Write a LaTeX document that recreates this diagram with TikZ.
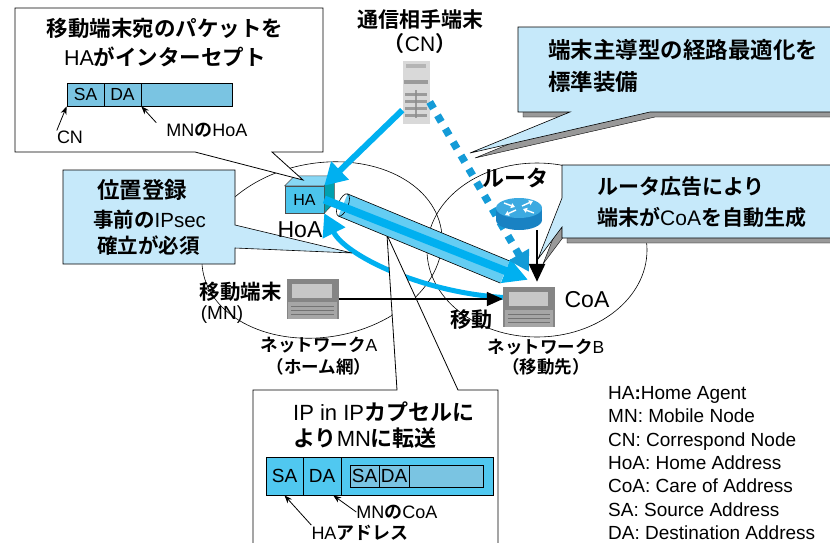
\documentclass[tikz,border=0pt]{standalone}
\usepackage{fontspec}
\setmainfont{Liberation Sans}
\newfontfamily\jpfont{Noto Sans CJK JP Bold}
\usetikzlibrary{arrows.meta, calc}

\definecolor{callblue}{RGB}{198,233,250}
\definecolor{pktblue}{RGB}{122,196,226}
\definecolor{pktcyan}{RGB}{80,200,240}
\definecolor{flowcyan}{RGB}{0,176,240}
\definecolor{dotcyan}{RGB}{20,155,215}
\definecolor{tubeblue}{RGB}{100,205,243}
\definecolor{hafront}{RGB}{75,196,236}
\definecolor{hatop}{RGB}{135,215,245}
\definecolor{haside}{RGB}{0,160,175}
\definecolor{rtbody}{RGB}{25,130,195}
\definecolor{rttop}{RGB}{60,170,225}

\newcommand{\jb}[1]{{\jpfont #1}}
\newcommand{\pxsize}[2]{\fontsize{#1}{#2}\selectfont}

\begin{document}
\begin{tikzpicture}[x=1pt, y=-1pt,
    lbl/.style={inner sep=0pt, font=\pxsize{18}{22}},
    pkt/.style={draw, line width=0.8pt, minimum height=23pt, inner sep=0pt, font=\pxsize{17.5}{18}},
    callb/.style={draw, line width=0.6pt, fill=callblue},
    callw/.style={draw, line width=0.8pt, fill=white},
    callshade/.style={fill=black!40},
    tip/.style={-{Stealth[length=8pt,width=6pt]}, line width=0.8pt},
    laptop/.style={fill=black!48, minimum width=52pt, minimum height=40pt, inner sep=0pt}]
    \useasboundingbox (0,0) rectangle (830,542);

    % networks
    \draw[line width=0.6pt, rotate around={10:(322,250)}] (322,250) ellipse [x radius=121, y radius=87];
    \draw[line width=0.6pt] (537,250) ellipse [x radius=110, y radius=87];

    % hosts
    \node[laptop] (mn) at (312.5,299) {};
    \node[laptop] (coa) at (529,307) {};
    \node[fill=black!15, minimum width=27pt, minimum height=63pt, inner sep=0pt] (cn) at (416,92) {};
    \node[minimum width=46pt, minimum height=32pt, inner sep=0pt] (rt) at (519,214) {};
    \node[draw=black!70, line width=0.5pt, fill=hafront, minimum width=39pt, minimum height=27pt,
        inner sep=0pt, font=\pxsize{16}{16}] (ha) at (304.5,199.5) {HA};
    \filldraw[fill=hatop, draw=black!70, line width=0.5pt] (ha.north west) -- ++(10,-10) -- ++(39,0) -- (ha.north east) -- cycle;
    \filldraw[fill=haside, draw=black!70, line width=0.5pt] (ha.north east) -- ++(10,-10) -- ++(0,27) -- (ha.south east) -- cycle;

    \foreach \l in {mn,coa} {
        \fill[black!22] ($(\l.north west)+(6,5)$) rectangle ($(\l.north east)+(-7,19)$);
        \fill[black!35] ($(\l.north west)+(2,23)$) rectangle ($(\l.south east)+(-2,0)$);
        \foreach \dy in {27,31,35} \draw[black!55, line width=0.6pt] ($(\l.north west)+(5,\dy)$) -- ($(\l.north east)+(-5,\dy)$);
    }

    \fill[black!35, opacity=.7] ($(cn.north west)+(4,4)$) rectangle ($(cn.north east)+(-4,8)$);
    \fill[black!45, opacity=.8] ($(cn.north west)+(2,20)$) rectangle ($(cn.north east)+(-2,24)$);
    \foreach \dy in {33,40,47,54}
        \fill[black!45, opacity=.8] ($(cn.north west)+(3,\dy)$) rectangle ($(cn.north east)+(-3,\dy+3)$);
    \fill[black!45, opacity=.8] ($(cn.north)+(-1,30)$) rectangle ($(cn.north)+(1,58)$);

    % route back to the home agent
    \draw[flowcyan, line width=5pt, -{Triangle[length=22pt,width=24pt]}]
        (coa.160) .. controls (420,292) and (345,255) .. (ha.south east);

    % callouts
    \filldraw[callw] (15,8) -- (323,8) -- (323,152) -- (272,152) -- (303,180) -- (195,152) -- (15,152) -- cycle;
    \foreach \s/\st in {5/callshade, 0/callb}
        \filldraw[\st, shift={(\s,\s)}] (518,27) -- (840,27) -- (840,112) -- (650,112) -- (470,153) -- (570,112) -- (518,112) -- cycle;
    \foreach \s/\st in {5/callshade, 0/callb}
        \filldraw[\st, shift={(\s,\s)}] (562,165) -- (840,165) -- (840,238) -- (562,238) -- (562,227) -- (538,259) -- (562,198) -- cycle;
    \filldraw[callb] (63,170) -- (235,170) -- (235,225) -- (352,253) -- (235,248) -- (235,264) -- (63,264) -- cycle;
    \filldraw[callw] (253,390) -- (397,390) -- (387,235) -- (458,390) -- (498,390) -- (498,560) -- (253,560) -- cycle;

    % tunnel
    \fill[tubeblue] (347.6,193.9) -- (509.6,260.9) -- (500.4,283.1) -- (338.4,216.1) -- cycle;
    \draw[line width=0.6pt] (347.6,193.9) -- (509.6,260.9) (338.4,216.1) -- (500.4,283.1);
    \draw[line width=0.6pt, rotate around={-22.5:(343,205)}] (343,205) ellipse [x radius=5, y radius=12];
    \draw[flowcyan, line width=8pt, -{Triangle[length=24pt,width=24pt]}] (ha.east) -- ($(coa.north)+(-1,-7)$);

    % flows
    \draw[flowcyan, line width=6pt, -{Triangle[length=22pt,width=24pt]}] (cn.233) -- (ha.north east);
    \draw[dotcyan, line width=7.5pt, dash pattern=on 7.5pt off 8pt, -{Triangle[length=20pt,width=22pt]}]
        (cn.324) -- ($(coa.north)+(0,-15)$);
    \draw[line width=1.6pt, -{Triangle[length=16pt,width=14pt]}] (mn.east) -- (mn.east -| coa.west);
    \draw[line width=2.8pt, -{Triangle[length=18pt,width=16pt]}] ($(rt.south)+(18,0)$) -- ($(coa.north)+(8,-5)$);

    % router
    \fill[rtbody] ($(rt)+(-23,-6)$) rectangle ($(rt)+(23,6)$);
    \fill[rtbody] ($(rt)+(0,6)$) ellipse [x radius=23, y radius=10];
    \fill[rttop] ($(rt)+(0,-6)$) ellipse [x radius=23, y radius=10];
    \draw[white, line width=1.4pt, -{Triangle[length=4pt,width=5pt]}] ($(rt)+(-15,-11)$) -- ($(rt)+(-4,-7)$);
    \draw[white, line width=1.4pt, -{Triangle[length=4pt,width=5pt]}] ($(rt)+(15,-1)$) -- ($(rt)+(4,-5)$);
    \draw[white, line width=1.4pt, -{Triangle[length=4pt,width=5pt]}] ($(rt)+(3,-8)$) -- ($(rt)+(14,-13)$);
    \draw[white, line width=1.4pt, -{Triangle[length=4pt,width=5pt]}] ($(rt)+(-3,-4)$) -- ($(rt)+(-14,1)$);

    % packets
    \node[pkt, fill=pktblue, minimum width=37pt] (sa1) at (85.5,94.5) {SA};
    \node[pkt, fill=pktblue, minimum width=37pt] (da1) at (122.5,94.5) {DA};
    \node[pkt, fill=pktblue, minimum width=91pt] (pl1) at (186.5,94.5) {};
    \node[lbl] (cn1) at (70,137) {CN};
    \node[lbl] (hoa1) at (207,130) {MN\jb{の}HoA};
    \draw[tip] (cn1.north west) -- (sa1.south west);
    \draw[tip] ([xshift=-10pt]hoa1.north west) -- (da1.south east);

    \node[pkt, fill=pktcyan, minimum width=37pt, minimum height=38pt, font=\pxsize{19}{19}] (sa2) at (284.5,476) {SA};
    \node[pkt, fill=pktcyan, minimum width=38pt, minimum height=38pt, font=\pxsize{19}{19}] (da2) at (322,476) {DA};
    \node[pkt, fill=pktcyan, minimum width=152pt, minimum height=38pt] (pl2) at (417,476) {};
    \node[pkt, fill=pktblue, minimum width=29pt, minimum height=22pt, font=\pxsize{19}{19}] (isa) at (364.5,476) {SA};
    \node[pkt, fill=pktblue, minimum width=30pt, minimum height=22pt, font=\pxsize{19}{19}] (ida) at (394,476) {DA};
    \node[pkt, fill=pktblue, minimum width=74pt, minimum height=22pt] (ipl) at (446,476) {};
    \node[lbl] (mcoa) at (397,512) {MN\jb{の}CoA};
    \node[lbl] (hadr) at (360,533) {HA\jb{アドレス}};
    \draw[tip] (hadr.north west) -- (sa2.south);
    \draw[tip] (mcoa.west) -- (da2.300);

    % texts
    \node[inner sep=0pt, align=center, font=\pxsize{21.5}{29}] (t1) at (165,43) {\jb{移動端末宛のパケットを}\\HA\jb{がインターセプト}};
    \node[inner sep=0pt, align=center, font=\pxsize{21}{24}] (cnname) at (420,32) {\jb{通信相手端末}\\\jb{（}CN\jb{）}};
    \node[inner sep=0pt, align=left, anchor=west, font=\pxsize{22.5}{32}] (t2) at (548,66) {\jb{端末主導型の経路最適化を}\\\jb{標準装備}};
    \node[inner sep=0pt, align=left, anchor=west, font=\pxsize{21}{31}] (t3) at (597,202.5) {\jb{ルータ広告により}\\\jb{端末が}CoA\jb{を自動生成}};
    \node[inner sep=0pt, anchor=west, font=\pxsize{22.5}{24}] (t4) at (97,190) {\jb{位置登録}};
    \node[inner sep=0pt, anchor=west, font=\pxsize{20.5}{24}] (t5) at (93,220) {\jb{事前の}IPsec};
    \node[inner sep=0pt, anchor=west, font=\pxsize{20.5}{24}] (t6) at (97,246) {\jb{確立が必須}};
    \node[inner sep=0pt, align=left, anchor=west, font=\pxsize{22}{26}] (t7) at (293,425) {IP in IP\jb{カプセルに}\\\jb{より}MN\jb{に転送}};
    \node[inner sep=0pt, font=\pxsize{22}{24}] (rtname) at (515,178) {\jb{ルータ}};
    \node[inner sep=0pt, font=\pxsize{23}{24}] (hoa) at (300,230) {HoA};
    \node[inner sep=0pt, font=\pxsize{23}{24}] (coaname) at (587,300) {CoA};
    \node[inner sep=0pt, anchor=east, font=\pxsize{20.5}{24}] (mnname) at (282,292) {\jb{移動端末}};
    \node[inner sep=0pt, font=\pxsize{19}{22}] (mnabbr) at (222,315) {(MN)};
    \node[inner sep=0pt, font=\pxsize{21}{24}] (move) at (471,320) {\jb{移動}};
    \node[inner sep=0pt, align=center, font=\pxsize{17.5}{22}] (neta) at (319,356) {\jb{ネットワーク}A\\\jb{（ホーム網）}};
    \node[inner sep=0pt, align=center, font=\pxsize{17.5}{20}] (netb) at (546,357.5) {\jb{ネットワーク}B\\\jb{（移動先）}};
    \node[inner sep=0pt, align=left, anchor=west, font=\pxsize{19}{23.3}] (legend) at (608,463)
        {HA\textbf{:}Home Agent\\MN: Mobile Node\\CN: Correspond Node\\HoA: Home Address\\CoA: Care of Address\\SA: Source Address\\DA: Destination Address};
\end{tikzpicture}
\end{document}
